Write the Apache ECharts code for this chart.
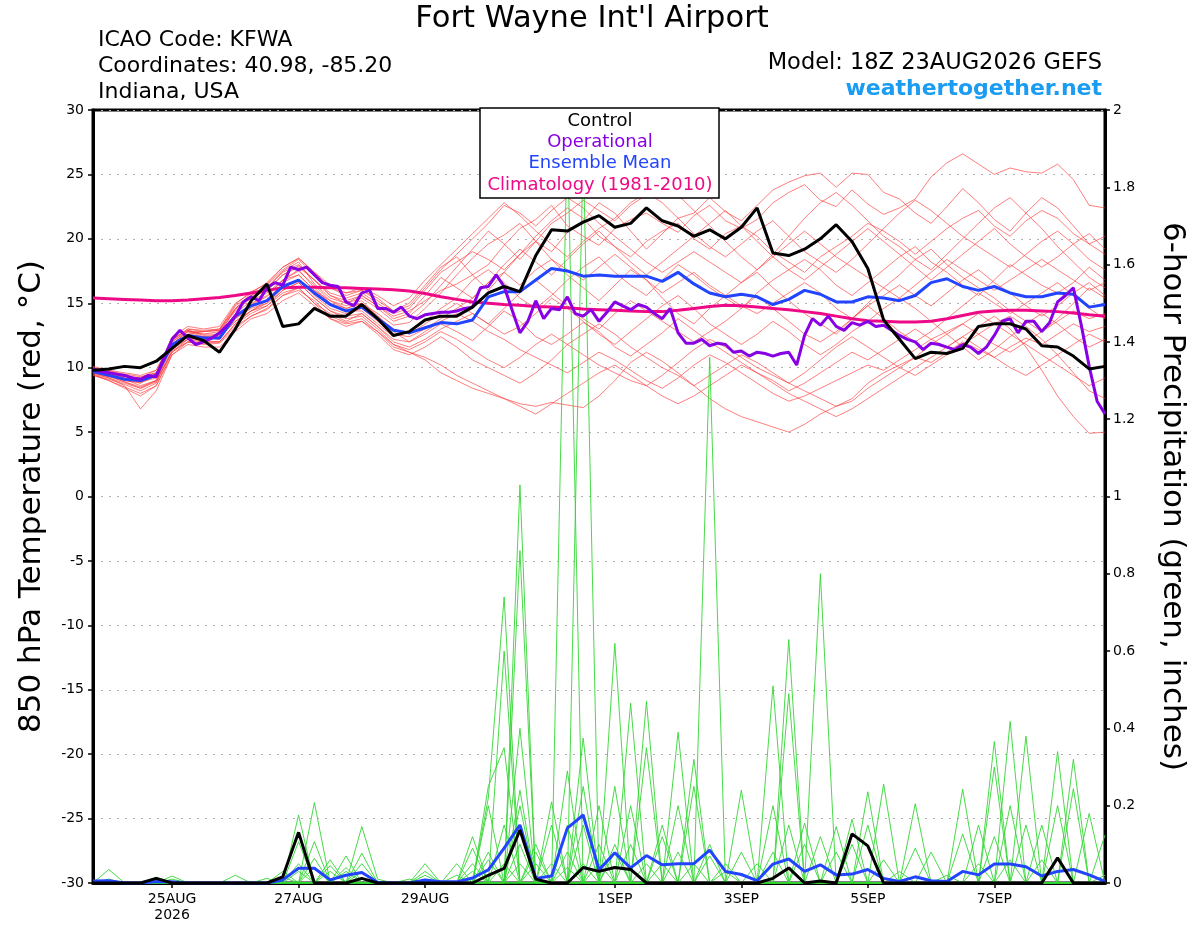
<!DOCTYPE html>
<html>
<head>
<meta charset="utf-8">
<title>Fort Wayne Int'l Airport</title>
<script src="https://cdn.jsdelivr.net/npm/echarts@6.0.0/dist/echarts.min.js"></script>
<style>
  html, body { margin: 0; padding: 0; background: #fff; }
  #chart { width: 1200px; height: 927px; }
</style>
</head>
<body>
<div id="chart"></div>
<script>
// forecast hours from 18Z 23AUG2026; ensemble is 6-hourly, operational 3-hourly
const stepHours = Array.from({ length: 65 }, (_, k) => k * 6);
const opHours = Array.from({ length: 129 }, (_, k) => k * 3);

const tickHours = [30, 78, 126, 198, 246, 294, 342];
const tickLabels = ['25AUG\n2026', '27AUG', '29AUG', '1SEP', '3SEP', '5SEP', '7SEP'];

// 850 hPa temperature (C)
const controlTemp = [
  9.8, 9.9, 10.1, 10.0, 10.5, 11.5, 12.5, 12.1, 11.2, 13.0,
  15.2, 16.5, 13.2, 13.4, 14.6, 14.0, 14.0, 14.9, 13.8, 12.5,
  12.8, 13.7, 14.0, 14.0, 14.7, 15.8, 16.3, 15.9, 18.7, 20.7,
  20.6, 21.3, 21.8, 20.9, 21.2, 22.4, 21.4, 21.0, 20.2, 20.7,
  20.0, 20.9, 22.4, 18.9, 18.7, 19.2, 20.0, 21.1, 19.8, 17.7,
  13.7, 12.2, 10.7, 11.2, 11.1, 11.5, 13.2, 13.4, 13.4, 13.0,
  11.7, 11.6, 10.9, 9.9, 10.1
];

const operationalTemp = [
  9.9, 9.7, 9.6, 9.5, 9.4, 9.2, 9.1, 9.4, 9.3, 10.8,
  12.2, 12.9, 12.3, 11.8, 12.0, 12.3, 12.7, 13.3, 14.0, 15.1,
  15.5, 15.2, 16.2, 16.6, 16.4, 17.8, 17.6, 17.8, 17.2, 16.6,
  16.4, 16.3, 15.1, 14.8, 15.8, 16.0, 14.6, 14.6, 14.3, 14.7,
  14.0, 13.8, 14.1, 14.2, 14.3, 14.3, 14.4, 14.6, 14.7, 16.2,
  16.3, 17.2, 16.3, 14.5, 12.7, 13.6, 15.2, 13.8, 14.6, 14.5,
  15.5, 14.2, 14.0, 14.5, 13.6, 14.3, 15.1, 14.8, 14.5, 14.9,
  14.7, 14.2, 13.8, 14.6, 12.7, 11.9, 11.9, 12.2, 11.7, 11.9,
  11.8, 11.2, 11.3, 10.9, 11.2, 11.1, 10.9, 11.1, 11.2, 10.2,
  12.5, 13.8, 13.3, 14.0, 13.2, 12.9, 13.5, 13.3, 13.6, 13.2,
  13.3, 12.9, 12.5, 12.2, 12.0, 11.4, 11.9, 11.8, 11.6, 11.4,
  11.8, 11.6, 11.1, 11.6, 12.5, 13.6, 13.8, 12.7, 13.6, 13.6,
  12.8, 13.5, 15.1, 15.6, 16.2, 13.3, 10.1, 7.4, 6.4
];

const meanTemp = [
  9.7, 9.4, 9.1, 9.0, 9.4, 11.8, 12.5, 12.3, 12.3, 14.0,
  14.8, 15.2, 16.3, 16.8, 15.8, 14.9, 14.4, 14.7, 13.8, 12.9,
  12.7, 13.1, 13.5, 13.4, 13.7, 15.5, 15.9, 15.9, 16.8, 17.7,
  17.5, 17.1, 17.2, 17.1, 17.1, 17.1, 16.7, 17.4, 16.5, 15.8,
  15.5, 15.7, 15.5, 14.9, 15.3, 16.0, 15.7, 15.1, 15.1, 15.5,
  15.4, 15.2, 15.6, 16.6, 16.9, 16.3, 16.0, 16.3, 15.8, 15.5,
  15.5, 15.8, 15.7, 14.7, 14.9
];

const climatologyTemp = [
  15.4, 15.35, 15.3, 15.25, 15.2, 15.2, 15.25, 15.35, 15.45, 15.6,
  15.8, 16.0, 16.2, 16.25, 16.25, 16.2, 16.2, 16.15, 16.1, 16.05,
  15.95, 15.75, 15.5, 15.3, 15.1, 15.0, 14.9, 14.85, 14.75, 14.7,
  14.65, 14.55, 14.5, 14.45, 14.4, 14.35, 14.35, 14.45, 14.6, 14.75,
  14.85, 14.8, 14.7, 14.6, 14.5, 14.35, 14.2, 14.0, 13.8, 13.65,
  13.6, 13.55, 13.55, 13.6, 13.8, 14.05, 14.3, 14.4, 14.45, 14.45,
  14.4, 14.35, 14.25, 14.1, 14.0
];

const tempMembers = [
  [9.8, 9.5, 9.0, 8.8, 9.6, 11.5, 12.6, 12.8, 12.9, 14.5, 15.8, 16.2, 17.5, 18.2, 16.5,
   15.4, 15.0, 15.6, 14.8, 14.0, 14.4, 15.2, 16.0, 16.5, 17.2, 18.0, 19.5, 20.8, 21.5, 22.6,
   21.0, 20.2, 19.5, 20.8, 21.5, 22.0, 21.2, 20.5, 21.8, 22.6, 21.4, 20.8, 21.5, 22.8, 23.6,
   24.2, 23.0, 22.5, 23.8, 22.7, 21.9, 22.4, 23.1, 24.8, 25.9, 26.6, 25.8, 25.0, 25.5, 25.2,
   25.1, 25.8, 24.6, 22.6, 22.4],
  [9.6, 9.3, 8.9, 8.5, 9.0, 11.2, 12.2, 12.0, 12.5, 13.8, 14.9, 15.5, 16.8, 17.2, 16.0,
   15.2, 14.6, 15.0, 14.2, 13.3, 13.5, 14.6, 15.8, 17.2, 18.5, 19.6, 20.3, 21.2, 19.8, 19.0,
   20.5, 21.4, 22.8, 22.0, 20.6, 19.2, 20.4, 21.6, 22.0, 23.2, 22.1, 21.4, 22.6, 23.8, 24.4,
   24.9, 25.1, 24.0, 25.1, 25.0, 23.6, 23.1, 22.0, 21.2, 22.5, 23.9, 22.8, 21.5, 20.6, 22.0,
   23.2, 22.4, 21.0, 19.6, 18.8],
  [9.5, 9.0, 8.4, 7.8, 8.6, 11.0, 12.0, 11.8, 11.9, 13.0, 14.0, 14.5, 15.6, 16.0, 15.2,
   14.0, 13.5, 13.8, 12.8, 11.6, 11.2, 10.6, 9.6, 9.0, 8.4, 8.0, 7.6, 7.2, 7.0, 7.3,
   7.1, 6.9, 7.8, 9.0, 10.4, 11.2, 10.5, 9.6, 8.6, 7.6, 6.8, 6.2, 5.8, 5.4, 5.0,
   5.6, 6.4, 7.0, 7.6, 8.8, 9.6, 10.2, 10.8, 10.4, 11.2, 12.0, 11.4, 10.8, 11.6, 12.3,
   11.8, 12.6, 13.4, 12.8, 13.2],
  [10.0, 9.6, 9.2, 8.8, 9.4, 11.8, 12.8, 12.4, 12.2, 14.0, 15.0, 15.6, 16.8, 17.5, 16.4,
   15.2, 14.8, 15.2, 14.0, 12.8, 12.0, 12.6, 13.4, 12.8, 12.1, 13.2, 14.4, 13.6, 12.4, 11.8,
   12.6, 13.5, 12.8, 11.6, 10.9, 11.8, 12.7, 13.8, 12.9, 12.0, 11.2, 10.4, 9.6, 9.0, 8.2,
   8.8, 9.6, 10.4, 11.2, 10.6, 11.4, 12.2, 13.0, 12.2, 11.6, 12.4, 13.2, 14.0, 13.0, 11.6,
   9.8, 7.8, 6.2, 4.9, 5.0],
  [9.7, 9.4, 9.2, 9.0, 9.3, 12.0, 12.9, 12.6, 12.6, 14.6, 15.5, 16.0, 17.2, 17.8, 16.8,
   15.8, 15.4, 15.8, 15.0, 14.2, 14.6, 16.0, 17.4, 18.2, 19.0, 18.4, 17.6, 18.8, 20.2, 21.4,
   22.4, 21.6, 20.2, 19.4, 18.6, 19.8, 20.6, 21.2, 20.0, 19.2, 20.4, 21.0, 20.2, 19.0, 18.2,
   17.4, 18.6, 19.4, 20.2, 21.2, 20.6, 19.8, 18.8, 19.8, 20.8, 21.6, 22.2, 21.0, 20.2, 21.4,
   22.2, 21.6, 20.4, 19.6, 20.2],
  [9.9, 9.7, 9.5, 9.3, 9.6, 11.6, 12.4, 12.1, 12.0, 13.4, 14.2, 14.8, 15.8, 16.2, 15.0,
   14.2, 13.6, 14.2, 13.2, 12.2, 12.0, 12.8, 13.6, 14.2, 13.6, 12.8, 12.2, 11.4, 10.8, 10.2,
   9.6, 10.4, 11.2, 10.6, 9.8, 9.0, 8.4, 9.2, 10.2, 11.0, 10.4, 9.6, 8.8, 8.0, 7.4,
   7.8, 8.4, 9.0, 9.6, 10.2, 9.8, 10.6, 11.4, 12.2, 12.8, 13.4, 12.6, 11.8, 11.2, 12.0,
   12.8, 13.6, 14.4, 13.8, 14.2],
  [9.4, 9.1, 8.7, 8.2, 8.8, 11.4, 12.2, 12.4, 12.6, 14.2, 15.2, 15.8, 16.8, 17.6, 16.2,
   15.0, 14.4, 14.4, 13.4, 12.4, 12.8, 13.6, 14.6, 15.4, 16.8, 17.6, 16.6, 15.4, 14.6, 15.6,
   16.8, 17.8, 18.6, 17.4, 16.4, 15.6, 16.8, 18.0, 17.2, 16.2, 15.4, 14.6, 15.8, 16.8, 17.6,
   18.4, 17.6, 16.4, 15.6, 16.6, 17.6, 18.6, 19.4, 18.2, 17.4, 16.4, 15.6, 16.8, 18.0, 17.2,
   16.4, 15.8, 16.6, 17.8, 16.8],
  [10.1, 9.8, 9.4, 9.2, 9.8, 12.2, 13.0, 12.8, 12.9, 14.8, 15.6, 16.4, 17.6, 18.4, 17.2,
   16.2, 15.6, 16.0, 15.4, 14.4, 15.0, 16.4, 17.8, 18.6, 17.2, 16.0, 17.4, 18.8, 19.8, 18.4,
   17.2, 16.2, 15.2, 16.4, 17.6, 16.8, 15.4, 14.2, 13.4, 14.6, 15.6, 16.6, 17.4, 16.2, 15.2,
   14.2, 13.4, 12.6, 13.8, 15.0, 16.2, 17.2, 18.4, 19.2, 18.0, 17.0, 16.2, 15.4, 14.4, 13.6,
   12.8, 13.8, 15.0, 16.2, 15.4],
  [9.6, 9.2, 8.6, 6.8, 8.2, 11.0, 11.8, 11.6, 11.6, 12.8, 13.8, 14.2, 15.2, 15.8, 14.8,
   13.8, 13.2, 13.6, 12.6, 11.4, 11.0, 11.6, 12.4, 11.6, 10.6, 10.0, 9.4, 8.8, 9.6, 10.6,
   11.8, 12.6, 13.4, 12.6, 11.6, 10.8, 10.0, 9.4, 8.6, 9.4, 10.2, 11.0, 10.4, 9.6, 8.8,
   8.2, 7.6, 7.0, 7.4, 8.4, 9.2, 10.0, 10.8, 11.8, 12.6, 13.4, 14.2, 13.4, 12.6, 11.8,
   11.0, 10.2, 9.4, 8.6, 9.2],
  [9.8, 9.6, 9.3, 9.1, 9.5, 12.4, 13.2, 13.0, 13.2, 15.0, 15.8, 16.6, 17.8, 18.5, 17.4,
   16.4, 15.8, 16.2, 15.6, 14.8, 15.4, 16.8, 18.0, 19.2, 20.4, 21.6, 22.8, 21.8, 20.6, 19.6,
   18.6, 19.8, 20.8, 21.6, 22.8, 23.6, 22.8, 21.6, 20.4, 19.4, 18.6, 19.6, 20.6, 21.4, 20.2,
   19.0, 18.2, 17.4, 18.4, 19.6, 20.8, 22.0, 23.0, 22.2, 21.2, 20.2, 19.4, 18.6, 17.8, 18.8,
   19.8, 20.6, 19.6, 18.4, 17.6],
  [9.7, 9.4, 9.0, 8.9, 9.2, 11.8, 12.6, 12.4, 12.2, 13.8, 14.6, 15.0, 16.2, 16.8, 15.6,
   14.6, 14.2, 14.6, 13.6, 12.6, 12.4, 13.0, 13.8, 14.6, 15.4, 16.6, 17.4, 16.4, 17.6, 18.4,
   17.6, 16.8, 17.8, 18.8, 17.8, 16.8, 15.8, 16.6, 17.4, 16.4, 15.6, 14.8, 14.2, 15.0, 15.8,
   16.6, 15.8, 14.6, 13.8, 14.8, 15.6, 16.4, 15.6, 14.8, 15.8, 16.8, 17.6, 16.6, 15.8, 14.8,
   14.0, 14.8, 15.8, 16.6, 15.6],
  [9.9, 9.6, 9.1, 8.6, 9.0, 11.6, 12.2, 12.2, 12.4, 13.6, 14.4, 15.0, 16.0, 16.6, 15.4,
   14.4, 14.0, 14.2, 13.2, 12.0, 11.6, 12.2, 13.0, 13.6, 14.2, 13.4, 12.6, 13.2, 14.2, 15.4,
   14.6, 13.6, 12.6, 11.8, 12.8, 13.8, 14.8, 15.6, 14.6, 13.4, 12.6, 11.8, 12.6, 13.6, 12.8,
   11.8, 11.0, 11.8, 12.8, 13.6, 14.6, 15.4, 14.6, 13.6, 12.6, 11.6, 10.6, 11.4, 12.4, 13.4,
   14.2, 13.4, 12.4, 11.6, 12.2],
  [9.5, 9.2, 8.8, 8.4, 9.0, 11.8, 12.8, 12.8, 13.0, 14.6, 15.6, 16.2, 17.4, 18.0, 16.8,
   15.6, 15.0, 15.4, 14.6, 13.6, 14.0, 15.0, 16.4, 17.8, 19.2, 20.6, 19.6, 18.4, 19.8, 21.2,
   22.0, 23.0, 22.2, 21.4, 22.6, 23.4, 24.2, 23.4, 22.2, 21.0, 19.8, 18.6, 17.6, 18.8, 20.2,
   21.6, 22.8, 23.6, 22.6, 21.4, 20.2, 19.4, 18.4, 17.6, 18.8, 20.0, 21.2, 22.4, 23.2, 22.0,
   20.8, 19.4, 18.2, 17.0, 16.2],
  [9.8, 9.4, 8.9, 8.4, 8.9, 11.3, 12.0, 11.9, 12.0, 13.4, 14.4, 14.8, 16.0, 16.6, 15.4,
   14.4, 13.8, 14.0, 13.0, 11.8, 11.4, 12.0, 12.8, 12.2, 11.4, 10.6, 10.0, 10.8, 11.8, 12.6,
   11.8, 11.0, 10.2, 9.6, 9.0, 8.6, 9.4, 10.4, 11.4, 12.2, 11.6, 10.8, 10.0, 9.4, 8.8,
   9.6, 10.6, 11.6, 12.4, 11.6, 10.8, 10.0, 9.4, 10.2, 11.0, 11.8, 12.6, 13.4, 14.0, 13.2,
   12.2, 11.0, 9.6, 8.2, 7.6],
  [9.6, 9.3, 9.1, 8.9, 9.4, 12.0, 12.8, 12.6, 12.8, 14.4, 15.4, 16.0, 17.2, 17.9, 16.8,
   15.6, 15.2, 15.6, 14.8, 13.8, 14.2, 15.6, 17.0, 16.2, 15.4, 16.6, 18.0, 19.2, 18.2, 17.2,
   18.4, 19.6, 20.6, 19.4, 18.2, 17.2, 18.2, 19.2, 20.2, 21.2, 22.2, 21.0, 19.8, 18.6, 17.6,
   16.8, 17.8, 18.8, 19.8, 20.8, 19.8, 18.8, 17.8, 16.8, 17.8, 18.8, 19.8, 20.8, 19.6, 18.6,
   17.8, 18.6, 19.6, 20.4, 19.2],
  [10.0, 9.8, 9.6, 9.4, 9.8, 12.2, 12.9, 12.5, 12.3, 13.6, 14.4, 15.2, 16.6, 17.2, 16.0,
   15.0, 14.6, 15.0, 14.0, 13.0, 12.6, 13.4, 14.2, 15.0, 14.2, 13.4, 14.6, 15.8, 16.8, 15.8,
   14.8, 13.8, 13.0, 14.2, 15.2, 14.4, 13.6, 12.8, 12.0, 12.8, 13.6, 14.6, 15.6, 14.6, 13.6,
   12.6, 12.0, 12.8, 13.8, 14.8, 13.8, 12.8, 12.0, 12.8, 13.8, 14.8, 15.8, 15.0, 14.2, 15.0,
   15.8, 16.6, 15.6, 14.6, 13.8],
  [9.7, 9.5, 9.3, 9.2, 9.6, 12.1, 13.0, 12.9, 13.0, 14.9, 15.9, 16.5, 17.8, 18.5, 17.4,
   16.2, 15.8, 16.0, 15.2, 14.4, 14.8, 16.2, 17.6, 18.8, 20.0, 21.2, 22.6, 22.0, 21.0, 22.2,
   23.2, 22.4, 21.2, 20.2, 19.2, 18.2, 17.4, 18.2, 19.0, 18.2, 17.4, 16.6, 17.6, 18.6, 19.6,
   20.6, 19.6, 18.6, 17.8, 17.0, 16.2, 15.4, 16.4, 17.4, 18.4, 17.6, 16.8, 16.0, 16.8, 17.6,
   18.4, 17.6, 16.8, 16.0, 16.6],
  [9.4, 9.0, 8.5, 8.0, 8.6, 11.2, 12.0, 12.0, 12.0, 13.2, 14.0, 14.6, 15.6, 16.2, 15.0,
   13.8, 13.4, 13.6, 12.8, 11.8, 11.2, 10.8, 10.2, 9.4, 8.8, 8.2, 7.6, 7.0, 6.4, 7.2,
   8.0, 8.8, 9.6, 10.2, 9.4, 8.6, 7.8, 7.2, 7.8, 8.6, 9.4, 10.2, 9.6, 8.8, 8.0,
   7.4, 6.8, 6.2, 6.8, 7.6, 8.4, 9.2, 10.0, 10.8, 11.6, 12.4, 11.6, 10.8, 10.0, 9.4,
   10.2, 11.0, 11.8, 12.6, 12.0]
];

// 6-hour precipitation (inches)
const controlPrecip = [
  0, 0, 0, 0, 0.012, 0, 0, 0, 0, 0,
  0, 0, 0.016, 0.131, 0, 0, 0, 0.012, 0, 0,
  0, 0, 0, 0, 0, 0.02, 0.038, 0.137, 0.01, 0,
  0, 0.04, 0.03, 0.04, 0.035, 0, 0, 0, 0, 0,
  0, 0, 0, 0.012, 0.039, 0, 0.005, 0, 0.127, 0.096,
  0, 0, 0, 0, 0, 0, 0, 0, 0, 0,
  0, 0.065, 0, 0, 0
];

const meanPrecip = [
  0.005, 0.006, 0, 0, 0.004, 0.003, 0, 0, 0, 0,
  0, 0, 0.008, 0.038, 0.038, 0.008, 0.02, 0.027, 0.002, 0,
  0, 0.008, 0.003, 0.003, 0.013, 0.034, 0.09, 0.15, 0.012, 0.018,
  0.142, 0.176, 0.034, 0.078, 0.039, 0.071, 0.047, 0.05, 0.05, 0.085,
  0.03, 0.022, 0.006, 0.049, 0.062, 0.03, 0.047, 0.021, 0.023, 0.035,
  0.012, 0.004, 0.016, 0.006, 0.004, 0.03, 0.021, 0.049, 0.049, 0.042,
  0.018, 0.03, 0.035, 0.021, 0.004
];

const precipMembers = [
  [0, 0.035, 0, 0, 0, 0, 0, 0, 0, 0, 0, 0, 0.03, 0, 0, 0, 0.03, 0, 0, 0, 0, 0, 0, 0, 0.12,
   0, 0.05, 0, 0, 0, 0.08, 0, 0, 0.08, 0, 0, 0, 0.39, 0, 0, 0, 0, 0, 0, 0,
   0, 0, 0, 0, 0, 0, 0, 0, 0.08, 0, 0, 0, 0, 0, 0, 0.06, 0, 0, 0, 0],
  [0, 0, 0, 0, 0.01, 0, 0, 0, 0, 0, 0, 0, 0, 0.176, 0, 0.06, 0, 0, 0, 0, 0, 0, 0, 0, 0.09,
   0, 0, 0.1, 0, 0, 0, 0.05, 0, 0, 0, 0, 0, 0, 0.32, 0, 0, 0, 0, 0, 0,
   0, 0, 0, 0, 0, 0, 0, 0, 0, 0.02, 0, 0, 0, 0, 0, 0, 0, 0, 0, 0],
  [0, 0, 0, 0, 0, 0.018, 0, 0, 0, 0, 0, 0, 0, 0.107, 0, 0, 0.07, 0, 0, 0, 0, 0, 0, 0, 0,
   0.25, 0.35, 0, 0, 0.05, 0, 0, 0, 0, 0.1, 0, 0, 0, 0, 1.36, 0, 0, 0, 0, 0,
   0, 0, 0, 0, 0, 0, 0, 0, 0, 0, 0.127, 0, 0, 0, 0, 0, 0, 0, 0, 0],
  [0, 0, 0, 0, 0, 0, 0, 0, 0, 0.02, 0, 0, 0, 0, 0.208, 0, 0, 0, 0, 0, 0, 0, 0, 0, 0,
   0.2, 0, 0, 0, 0, 0.29, 0, 0, 0, 0, 0, 0.12, 0, 0, 0, 0, 0.24, 0, 0, 0,
   0, 0, 0, 0, 0, 0, 0, 0, 0, 0, 0, 0.05, 0, 0, 0, 0, 0, 0, 0, 0],
  [0, 0.01, 0, 0, 0, 0, 0, 0, 0, 0, 0, 0, 0, 0.05, 0, 0, 0, 0.146, 0.01, 0, 0, 0, 0, 0, 0,
   0.06, 0, 0, 0, 0, 0, 0.25, 0, 0, 0, 0, 0, 0.08, 0, 0, 0, 0, 0, 0.51, 0,
   0, 0, 0, 0, 0, 0, 0, 0, 0, 0, 0, 0, 0.3, 0, 0, 0, 0, 0, 0, 0],
  [0, 0, 0, 0, 0, 0.01, 0, 0, 0, 0, 0, 0, 0, 0, 0.107, 0, 0, 0.077, 0, 0, 0, 0, 0, 0, 0,
   0.22, 0.74, 0, 0.1, 0, 0, 0, 0.1, 0, 0, 0, 0, 0, 0.05, 0, 0, 0, 0, 0, 0.63,
   0, 0, 0, 0, 0, 0, 0, 0, 0, 0, 0, 0, 0, 0.418, 0, 0, 0, 0, 0, 0],
  [0, 0, 0, 0, 0, 0, 0, 0, 0, 0, 0, 0.012, 0, 0, 0.064, 0, 0, 0, 0, 0, 0.01, 0, 0, 0, 0,
   0, 0.6, 0, 0, 0, 0, 0, 0, 0.1, 0, 0, 0, 0, 0, 0.07, 0, 0, 0, 0, 0,
   0.155, 0, 0, 0, 0, 0, 0, 0, 0, 0, 0, 0, 0, 0.06, 0, 0, 0, 0, 0, 0],
  [0, 0, 0, 0, 0, 0, 0, 0, 0, 0, 0, 0, 0.015, 0, 0, 0.045, 0, 0, 0, 0, 0, 0.05, 0, 0, 0,
   0, 0, 1.03, 0, 0, 0, 0, 0, 0, 0.2, 0, 0, 0, 0, 0, 0.03, 0, 0, 0, 0,
   0, 0.8, 0, 0, 0, 0, 0, 0, 0, 0, 0, 0, 0, 0, 0.38, 0, 0, 0, 0, 0],
  [0, 0, 0, 0, 0.015, 0, 0, 0, 0, 0, 0, 0, 0, 0.03, 0, 0, 0, 0, 0, 0, 0, 0.03, 0, 0, 0,
   0, 0, 0.86, 0, 0, 0.04, 0, 0, 0, 0, 0.05, 0, 0, 0, 0, 0, 0, 0, 0.08, 0,
   0, 0, 0.146, 0, 0, 0, 0, 0, 0, 0, 0, 0, 0, 0, 0.15, 0, 0, 0, 0, 0],
  [0, 0, 0, 0, 0, 0, 0, 0, 0, 0, 0, 0, 0, 0, 0.04, 0, 0, 0, 0, 0, 0, 0.02, 0, 0, 0,
   0, 0, 0.4, 0, 0, 0, 0.375, 0, 0, 0, 0, 0.05, 0, 0, 0, 0, 0, 0, 0, 0.15,
   0, 0, 0, 0.165, 0, 0, 0, 0, 0, 0, 0, 0, 0, 0, 0, 0.15, 0, 0, 0, 0],
  [0, 0, 0, 0, 0, 0, 0, 0, 0, 0, 0, 0, 0, 0, 0, 0.03, 0, 0, 0, 0, 0, 0, 0, 0.05, 0,
   0, 0, 0.24, 0, 0, 0, 0.15, 0, 0, 0, 0, 0, 0.2, 0, 0, 0, 0, 0, 0, 0,
   0.1, 0, 0, 0, 0.236, 0, 0, 0, 0, 0, 0, 0, 0, 0, 0, 0, 0.34, 0, 0, 0],
  [0, 0, 0, 0, 0, 0, 0, 0, 0, 0, 0, 0, 0, 0, 0, 0, 0.04, 0, 0, 0, 0, 0, 0, 0.02, 0,
   0, 0, 0.2, 0, 0, 0, 0, 0.2, 0, 0, 0, 0, 0, 0.25, 0, 0, 0, 0, 0, 0,
   0, 0.12, 0, 0, 0, 0.256, 0, 0, 0, 0, 0, 0, 0, 0, 0, 0, 0.2, 0, 0, 0],
  [0, 0, 0, 0, 0, 0, 0, 0, 0, 0, 0, 0, 0, 0, 0, 0, 0, 0.05, 0, 0, 0, 0, 0, 0, 0.05,
   0, 0, 0, 0.05, 0, 0, 0, 0, 0.62, 0, 0, 0, 0, 0, 0.1, 0, 0, 0, 0, 0,
   0, 0, 0.08, 0, 0, 0, 0, 0.205, 0, 0, 0, 0, 0, 0, 0, 0, 0, 0.32, 0, 0],
  [0, 0, 0, 0, 0, 0, 0, 0, 0, 0, 0, 0, 0, 0, 0, 0, 0, 0.03, 0, 0, 0, 0, 0, 0, 0.03,
   0, 0, 0, 0, 0.21, 0, 0, 0, 0.25, 0, 0, 0, 0, 0, 0, 0.05, 0, 0, 0, 0,
   0, 0, 0, 0.1, 0, 0, 0, 0, 0, 0, 0.243, 0, 0, 0, 0, 0, 0, 0.244, 0, 0],
  [0, 0, 0, 0, 0, 0, 0, 0, 0, 0, 0, 0, 0, 0, 0, 0, 0, 0, 0, 0, 0, 0, 0, 0, 0,
   0.08, 0, 0, 0, 0.15, 0, 0, 0, 0, 0.465, 0, 0, 0, 0, 0, 0, 0.08, 0, 0, 0,
   0, 0, 0, 0, 0.15, 0, 0, 0, 0, 0, 0, 0.15, 0, 0, 0, 0, 0, 0, 0.18, 0],
  [0, 0, 0, 0, 0, 0, 0, 0, 0, 0, 0, 0, 0, 0, 0, 0, 0, 0, 0, 0, 0, 0, 0, 0, 0,
   0, 0.15, 0, 0, 0, 1.95, 0, 0.05, 0, 0, 0.47, 0, 0, 0, 0, 0, 0, 0.05, 0, 0,
   0, 0, 0, 0, 0, 0.06, 0, 0, 0, 0, 0, 0, 0.366, 0, 0, 0, 0, 0, 0, 0.124],
  [0, 0, 0, 0, 0, 0, 0, 0, 0, 0, 0, 0, 0, 0, 0, 0, 0, 0, 0, 0, 0, 0, 0, 0, 0,
   0, 0, 0.05, 0, 0, 0.15, 0, 0, 0, 0, 0.35, 0, 0, 0, 0, 0, 0, 0, 0.2, 0,
   0, 0, 0, 0, 0, 0, 0.03, 0, 0, 0, 0, 0, 0.12, 0, 0, 0, 0, 0, 0, 0.02],
  [0, 0, 0, 0, 0, 0, 0, 0, 0, 0, 0, 0, 0, 0, 0, 0, 0, 0, 0, 0, 0, 0, 0, 0, 0,
   0, 0, 0, 0.08, 0, 0, 1.9, 0, 0, 0, 0, 0.15, 0, 0, 0, 0, 0, 0, 0, 0.49,
   0, 0, 0, 0, 0, 0, 0, 0.09, 0, 0, 0, 0, 0, 0.2, 0, 0, 0, 0, 0, 0]
];

const font = 'DejaVu Sans';
const pairs = (hrs, vals) => vals.map((v, k) => [hrs[k], v]);

const chart = echarts.init(document.getElementById('chart'));

const thin = (name, data, color, axis) => ({
  name, type: 'line', yAxisIndex: axis, data, symbol: 'none', silent: true, z: 1,
  lineStyle: { color, width: 0.9 }
});
const thick = (name, data, color, axis, z) => ({
  name, type: 'line', yAxisIndex: axis, data, symbol: 'none', silent: true, z,
  lineStyle: { color, width: 3 }
});

const series = [];
tempMembers.forEach((m, k) => series.push(thin('t' + k, pairs(stepHours, m), 'rgba(255,55,55,0.72)', 0)));
precipMembers.forEach((m, k) => series.push(thin('p' + k, pairs(stepHours, m), '#33d633', 1)));
series.push(thick('Climatology', pairs(stepHours, climatologyTemp), '#ee0a86', 0, 3));
series.push(thick('Ensemble Mean', pairs(stepHours, meanTemp), '#2244ff', 0, 4));
series.push(thick('Mean precip', pairs(stepHours, meanPrecip), '#2244ff', 1, 4));
series.push(thick('Operational', pairs(opHours, operationalTemp), '#8800e4', 0, 5));
series.push(thick('Control', pairs(stepHours, controlTemp), '#000', 0, 6));
series.push(thick('Control precip', pairs(stepHours, controlPrecip), '#000', 1, 6));

const txt = (text, x, y, size, color, align, weight) => ({
  type: 'text', x, y, z: 100,
  style: {
    text, fill: color, font: (weight || 'normal') + ' ' + size + 'px "' + font + '"',
    textAlign: align, align, textVerticalAlign: 'middle', verticalAlign: 'middle'
  }
});

chart.setOption({
  animation: false,
  backgroundColor: '#fff',
  grid: { left: 93, right: 95, top: 110, bottom: 44, show: true, borderColor: '#000', borderWidth: 3, backgroundColor: 'transparent' },
  xAxis: {
    type: 'value', min: 0, max: 384,
    axisLine: { show: true, onZero: false, lineStyle: { color: '#000', width: 3 } },
    splitLine: { show: false },
    axisTick: { show: true, customValues: tickHours, length: 5, lineStyle: { color: '#000', width: 1.5 } },
    axisLabel: {
      customValues: tickHours, color: '#000', fontFamily: font, fontSize: 14, lineHeight: 16, margin: 8,
      formatter: v => tickLabels[tickHours.indexOf(v)] || ''
    }
  },
  yAxis: [
    {
      type: 'value', min: -30, max: 30, interval: 5, position: 'left',
      name: '850 hPa Temperature (red, °C)', nameLocation: 'middle', nameGap: 46, nameRotate: 90,
      nameTextStyle: { fontFamily: font, fontSize: 31, color: '#000' },
      axisLine: { show: true, onZero: false, lineStyle: { color: '#000', width: 3 } },
      axisTick: { show: true, length: 5, lineStyle: { color: '#000', width: 1.5 } },
      axisLabel: { color: '#000', fontFamily: font, fontSize: 14, margin: 9 },
      splitLine: { show: true, lineStyle: { color: '#b0b0b0', type: [2, 6], width: 1 } }
    },
    {
      type: 'value', min: 0, max: 2, interval: 0.2, position: 'right',
      name: '6-hour Precipitation (green, inches)', nameLocation: 'middle', nameGap: 52, nameRotate: -90,
      nameTextStyle: { fontFamily: font, fontSize: 31, color: '#000' },
      axisLine: { show: true, onZero: false, lineStyle: { color: '#000', width: 3 } },
      axisTick: { show: true, length: 5, lineStyle: { color: '#000', width: 1.5 } },
      axisLabel: { color: '#000', fontFamily: font, fontSize: 14, margin: 8 },
      splitLine: { show: false }
    }
  ],
  graphic: [
    txt("Fort Wayne Int'l Airport", 592, 19, 30.5, '#000', 'center'),
    txt('ICAO Code: KFWA', 98, 40, 22, '#000', 'left'),
    txt('Coordinates: 40.98, -85.20', 98, 66, 22, '#000', 'left'),
    txt('Indiana, USA', 98, 92, 22, '#000', 'left'),
    txt('Model: 18Z 23AUG2026 GEFS', 1102, 63, 22.5, '#000', 'right'),
    txt('weathertogether.net', 1102, 89, 22, '#1a9cf2', 'right', 'bold'),
    {
      type: 'rect', z: 99,
      shape: { x: 480, y: 108, width: 239, height: 90 },
      style: { fill: '#fff', stroke: '#000', lineWidth: 1.5 }
    },
    txt('Control', 600, 121, 18, '#000', 'center'),
    txt('Operational', 600, 142, 18, '#8800e4', 'center'),
    txt('Ensemble Mean', 600, 163, 18, '#2244ff', 'center'),
    txt('Climatology (1981-2010)', 600, 185, 18, '#ee0a86', 'center')
  ],
  series
});
</script>
</body>
</html>
